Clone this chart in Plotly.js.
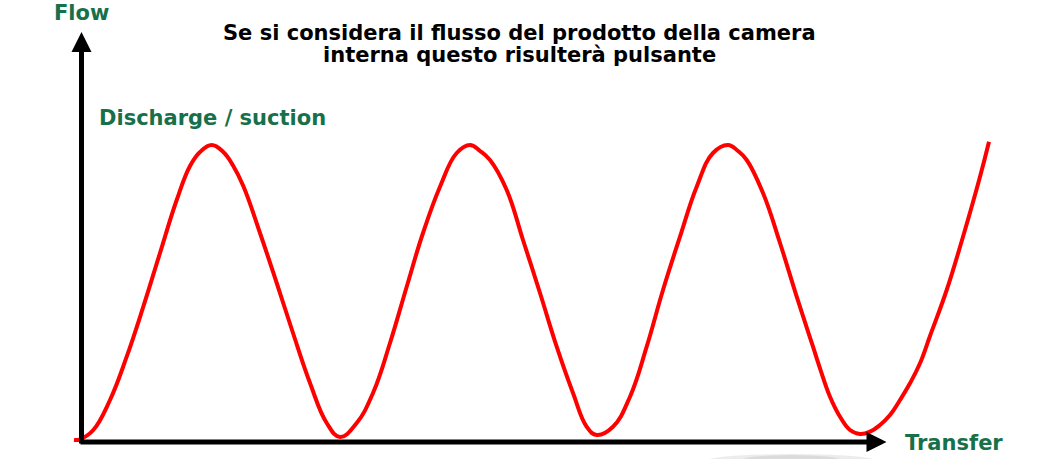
<!DOCTYPE html>
<html>
<head>
<meta charset="utf-8">
<script src="https://cdn.plot.ly/plotly-3.0.1.min.js"></script>
<style>
html,body{margin:0;padding:0;background:#fff;}
#chart{width:1046px;height:459px;}
</style>
</head>
<body>
<div id="chart"></div>
<script>
// Transfer (horizontal position) and flow values
const transfer = [-7.5, -1.5, 11.8, 28.5, 45.2, 61.8, 78.5, 95.2, 108.5, 118.5, 130.2, 141.8, 151.8, 161.8, 178.5, 195.2, 211.5, 228.5, 245.2, 258.5,
  275.2, 291.5, 308.5, 325.2, 341.5, 358.5, 375.2, 388.5, 398.5, 408.5, 425.2, 441.5, 458.5, 475.2, 491.5, 505.2, 515.2,
  531.5, 548.5, 565.2, 581.5, 598.5, 615.2, 631.5, 646.5, 656.5, 665.2, 681.5, 698.5, 715.2, 731.5, 738.5, 748.5, 758.5, 768.5, 778.5,
  788.5, 798.5, 808.5, 818.5, 828.5, 838.5, 848.5, 865.2, 881.5, 898.5, 907.5];
const flow = [2, 2.7, 12, 42, 85.3, 135.3, 189, 242, 276, 290, 297, 290, 276, 256, 209, 159, 109, 59, 19, 5,
  19, 49, 99, 155.3, 209, 255.3, 289, 297, 291, 282, 252, 202, 149, 95.3, 49, 15.3, 7,
  15.3, 45.3, 95.3, 152, 205.3, 255.3, 289, 297, 291, 282, 249, 199, 145.3, 95.3, 73.7, 45.3, 25.3, 12, 8,
  10.3, 17, 27, 42, 58.7, 78.7, 106, 152, 205.3, 265.3, 300.3];

const titleLines = ["Se si considera il flusso del prodotto della camera", "interna questo risulterà pulsante"];
const yLabel = "Flow";
const xLabel = "Transfer";
const curveLabel = "Discharge / suction";

const green = "#17704a";
const fontFam = "DejaVu Sans, Verdana, sans-serif";
const fs = 21;

const trace = {
  x: transfer, y: flow, type: "scatter", mode: "lines",
  line: {color: "#ff0000", width: 4, shape: "spline", smoothing: 1.2},
  hoverinfo: "skip", showlegend: false
};

const layout = {
  width: 1046, height: 459,
  margin: {l: 0, r: 0, t: 0, b: 0},
  paper_bgcolor: "#ffffff", plot_bgcolor: "#ffffff",
  xaxis: {range: [-81.5, 964.5], visible: false, fixedrange: true},
  yaxis: {range: [-17, 442], visible: false, fixedrange: true},
  showlegend: false,
  shapes: [
    {type: "circle", xref: "x", yref: "y", x0: 625, x1: 795, y0: -12, y1: -26,
     fillcolor: "rgba(200,200,200,0.35)", line: {width: 0}, layer: "below"},
    {type: "circle", xref: "x", yref: "y", x0: 660, x1: 760, y0: -13, y1: -24,
     fillcolor: "rgba(190,190,190,0.35)", line: {width: 0}, layer: "below"}
  ],
  annotations: [
    {x: 0, y: 410, ax: 0, ay: -3, xref: "x", yref: "y", axref: "x", ayref: "y",
     showarrow: true, arrowhead: 2, arrowsize: 0.8, arrowwidth: 5, arrowcolor: "#000", text: ""},
    {x: 805, y: 0, ax: -2.5, ay: 0, xref: "x", yref: "y", axref: "x", ayref: "y",
     showarrow: true, arrowhead: 2, arrowsize: 0.8, arrowwidth: 5, arrowcolor: "#000", text: ""},
    {x: 0.0779, y: 1.0, xref: "paper", yref: "paper", xanchor: "center", yanchor: "top", yshift: 0.6,
     text: "<b>" + yLabel + "</b>", showarrow: false, font: {family: fontFam, size: fs, color: green}},
    {x: 0.0925, y: 0.774, xref: "paper", yref: "paper", xanchor: "left", yanchor: "top",
     text: "<b>" + curveLabel + "</b>", showarrow: false, font: {family: fontFam, size: fs, color: green}},
    {x: 0.863, y: 0.066, xref: "paper", yref: "paper", xanchor: "left", yanchor: "top",
     text: "<b>" + xLabel + "</b>", showarrow: false, font: {family: fontFam, size: fs, color: green}},
    {x: 0.4967, y: 0.9592, xref: "paper", yref: "paper", xanchor: "center", yanchor: "top",
     text: "<b>" + titleLines[0] + "</b>", showarrow: false,
     font: {family: fontFam, size: fs, color: "#000"}},
    {x: 0.4967, y: 0.9098, xref: "paper", yref: "paper", xanchor: "center", yanchor: "top",
     text: "<b>" + titleLines[1] + "</b>", showarrow: false,
     font: {family: fontFam, size: fs, color: "#000"}}
  ]
};

Plotly.newPlot("chart", [trace], layout, {staticPlot: true, displayModeBar: false});
</script>
</body>
</html>
